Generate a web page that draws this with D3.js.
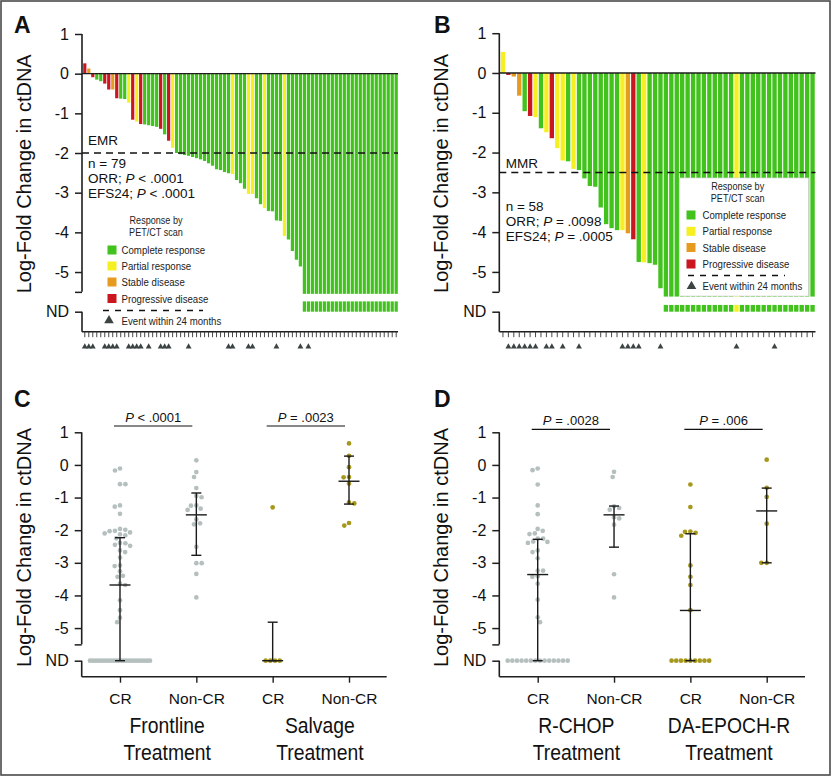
<!DOCTYPE html>
<html><head><meta charset="utf-8">
<script src="https://cdn.jsdelivr.net/npm/d3@7/dist/d3.min.js"></script>
<style>
body{margin:0;background:#fff;}
svg{display:block;}
</style></head><body>
<svg id="fig" width="832" height="776"></svg>
<script>
const ND = "ND";

// ---------- Panel A (waterfall, n = 79) ----------
const respA = ["PD","SD","PD","CR","CR","PD","PD","SD","PD","CR",
  "CR","PR","PD","PR","PD","CR","CR","CR","CR","PD",
  "CR","PD","PR","CR","CR","CR","CR","CR","CR","CR",
  "CR","CR","CR","CR","CR","CR","CR","PR","CR","CR",
  "CR","PR","PR","CR","CR","PR","CR","CR","CR","CR",
  "PR","CR","CR","CR","CR","CR","CR","CR","CR","CR",
  "CR","CR","CR","CR","CR","CR","CR","CR","CR","CR",
  "CR","CR","CR","CR","CR","CR","CR","CR","CR"];
const valA = [0.26,0.13,-0.09,-0.15,-0.19,-0.25,-0.40,-0.40,-0.62,-0.63,
  -0.64,-0.73,-1.16,-1.21,-1.27,-1.28,-1.30,-1.32,-1.34,-1.39,
  -1.53,-1.69,-1.87,-2.00,-2.03,-2.05,-2.07,-2.10,-2.13,-2.16,
  -2.20,-2.26,-2.32,-2.41,-2.43,-2.48,-2.51,-2.53,-2.68,-2.76,
  -2.90,-3.03,-3.03,-3.14,-3.29,-3.39,-3.46,-3.47,-3.70,-3.71,
  -4.09,-4.18,-4.47,-4.69,-4.86,ND,ND,ND,ND,ND,
  ND,ND,ND,ND,ND,ND,ND,ND,ND,ND,
  ND,ND,ND,ND,ND,ND,ND,ND,ND];
const eventsA = [0,1,2,5,6,7,8,11,12,13,14,16,19,20,21,26,36,37,41,42,48,54,56];
const thresholdA = -2;

// ---------- Panel B (waterfall, n = 58) ----------
const respB = ["PR","PD","SD","SD","CR","PD","PR","CR","PR","PD",
  "PR","PR","CR","PR","CR","CR","CR","CR","CR","CR",
  "CR","CR","PR","SD","PD","CR","PR","CR","CR","CR",
  "CR","CR","CR","CR","CR","CR","CR","CR","CR","CR",
  "CR","CR","CR","PR","CR","CR","CR","CR","CR","CR",
  "CR","CR","CR","CR","CR","CR","CR","CR"];
const valB = [0.53,-0.05,-0.09,-0.57,-0.96,-1.08,-1.11,-1.39,-1.49,-1.64,
  -1.89,-2.20,-2.22,-2.41,-2.44,-2.65,-2.84,-2.86,-3.38,-3.80,
  -3.90,-3.95,-3.95,-4.03,-4.18,-4.75,-4.76,-4.78,-4.82,-5.41,
  ND,ND,ND,ND,ND,ND,ND,ND,ND,ND,
  ND,ND,ND,ND,ND,ND,ND,ND,ND,ND,
  ND,ND,ND,ND,ND,ND,ND,ND];
const eventsB = [1,2,3,4,5,6,8,9,11,14,22,23,24,25,29,43,50];
const thresholdB = -2.5;

// ---------- Panel C (dot plots) ----------
const frontCR = [-0.11,-0.17,-0.59,-0.59,-1.24,-1.28,-1.50,-1.96,-1.99,-2.02,
  -2.03,-2.07,-2.10,-2.13,-2.16,-2.25,-2.39,-2.40,-2.45,-2.48,
  -2.62,-2.67,-2.84,-3.08,-3.10,-3.26,-3.40,-3.43,-3.64,-3.68,
  -4.15,-4.45,-4.68,-4.82,
  ND,ND,ND,ND,ND,ND,ND,ND,ND,ND,ND,ND,ND,ND,ND,ND,ND,ND,ND,ND,ND,ND,ND,ND];
const frontNonCR = [0.14,-0.22,-0.37,-0.71,-0.95,-0.99,-1.24,-1.25,-1.34,-1.38,
  -1.67,-1.79,-1.82,-2.51,-3.01,-3.01,-3.34,-4.06];
const salvCR = [-1.30,ND,ND,ND,ND];
const salvNonCR = [0.66,0.28,-0.07,-0.37,-0.38,-0.57,-1.15,-1.18,-1.78,-1.86];
const medC = [-3.68,-1.53,ND,-0.50];
const q3C  = [-2.23,-0.86,-4.82,0.27];
const q1C  = [ND,-2.77,ND,-1.20];
const pC = [["P"," < .0001"],["P"," = .0023"]];
const groupsC = [["Frontline","Treatment"],["Salvage","Treatment"]];

// ---------- Panel D (dot plots) ----------
const rchopCR = [-0.11,-0.16,-0.60,-1.24,-1.51,-1.96,-2.02,-2.10,-2.12,-2.26,
  -2.26,-2.35,-2.36,-2.39,-2.62,-2.67,-2.86,-3.24,-3.24,-3.41,
  -3.43,-3.64,-4.13,-4.67,-4.82,
  ND,ND,ND,ND,ND,ND,ND,ND,ND,ND,ND,ND,ND,ND];
const rchopNonCR = [-0.21,-0.37,-1.27,-1.32,-1.37,-1.60,-1.64,-1.83,-3.35,-4.06];
const epochCR = [-0.60,-1.29,-2.04,-2.05,-2.08,-2.17,-3.08,-3.43,-3.68,-4.45,
  ND,ND,ND,ND,ND,ND,ND,ND,ND];
const epochNonCR = [0.16,-0.70,-0.98,-1.80,-3.00,-3.00];
const medD = [-3.36,-1.53,-4.46,-1.41];
const q3D  = [-2.28,-1.26,-2.11,-0.71];
const q1D  = [ND,-2.52,ND,-3.00];
const pD = [["P"," = .0028"],["P"," = .006"]];
const groupsD = [["R-CHOP","Treatment"],["DA-EPOCH-R","Treatment"]];

const catLabels = ["CR","Non-CR","CR","Non-CR"];
const yTicks = [1,0,-1,-2,-3,-4,-5];
const legendLabels = [["CR","Complete response"],["PR","Partial response"],["SD","Stable disease"],["PD","Progressive disease"]];

// ---------- styles ----------
const FONT = '"Liberation Sans", Arial, Helvetica, sans-serif';
const respColor = {CR:"#41c21c", PR:"#f6f022", SD:"#e59b20", PD:"#c9161f"};
const AXIS = "#1e1e1e";
const GRAY_DOT = "#b5c0be", OLIVE_DOT = "#a6981c";
const ND_POS = -6, BREAK = -5.5;
const num = v => v === ND ? ND_POS : v;

const svg = d3.select("#fig");
svg.append("rect").attr("x",1).attr("y",1).attr("width",829).attr("height",774)
  .attr("fill","#fff").attr("stroke","#4a4a4a").attr("stroke-width",1.6);

// condensed text: Liberation Sans squeezed horizontally
function narrowText(g, x, y, txt, size, anchor, sx, fill) {
  return g.append("text").attr("transform", `translate(${x},${y}) scale(${sx || 0.84},1)`)
    .attr("text-anchor", anchor || "start").attr("font-family", FONT)
    .attr("font-size", size).attr("fill", fill || "#222").text(txt);
}

function yAxis(g, y, axisX, bottomY, titleX) {
  const ax = d3.axisLeft(y).tickValues(yTicks.concat([BREAK, ND_POS]))
    .tickSize(7).tickPadding(6)
    .tickFormat(d => d === ND_POS ? "ND" : d === BREAK ? "" : String(d));
  const a = g.append("g").attr("transform", `translate(${axisX},0)`).call(ax);
  a.select(".domain").remove();
  a.selectAll(".tick line").attr("stroke", AXIS).attr("stroke-width", 1.5);
  a.selectAll(".tick text").attr("font-size", 16).attr("font-family", FONT).attr("fill", "#111");
  a.append("line").attr("x1",0).attr("x2",0).attr("y1", y(1)).attr("y2", y(BREAK))
    .attr("stroke", AXIS).attr("stroke-width", 1.6);
  a.append("line").attr("x1",0).attr("x2",0).attr("y1", y(ND_POS)).attr("y2", bottomY)
    .attr("stroke", AXIS).attr("stroke-width", 1.6);
  const midY = (y(1) + y(ND_POS)) / 2 + 1;
  g.append("text").attr("transform", `translate(${titleX},${midY}) rotate(-90)`)
    .attr("text-anchor","middle").attr("font-family", FONT).attr("font-size", 20)
    .attr("fill","#111").text("Log-Fold Change in ctDNA");
}

function panelLetter(letter, x, yb) {
  svg.append("text").attr("x", x).attr("y", yb).attr("font-family", FONT)
    .attr("font-weight","bold").attr("font-size", 23).attr("fill","#111").text(letter);
}

// text with an italic "P" part: parts = [before, italic, after]
function statText(sel, x, y, parts, size, anchor) {
  const t = sel.append("text").attr("x", x).attr("y", y).attr("font-family", FONT)
    .attr("font-size", size).attr("fill", "#111").attr("text-anchor", anchor || "start");
  if (parts[0]) t.append("tspan").text(parts[0]);
  t.append("tspan").attr("font-style","italic").text(parts[1]);
  t.append("tspan").text(parts[2]);
  return t;
}

function waterfall(cfg) {
  const g = svg.append("g");
  const y = d3.scaleLinear().domain([1, ND_POS]).range([cfg.yTop, cfg.yND]);
  const x = d3.scaleBand().domain(d3.range(cfg.vals.length)).range([cfg.x0, cfg.x1])
    .paddingInner(0.2).paddingOuter(0.05);
  const data = cfg.vals.map((v, i) => ({i, v, r: cfg.resp[i]}));
  g.selectAll("rect.bar").data(data).join("rect").attr("class","bar")
    .attr("x", d => x(d.i)).attr("width", x.bandwidth())
    .attr("y", d => d.v === ND ? y(0) : Math.min(y(0), y(d.v)))
    .attr("height", d => d.v === ND ? y(cfg.ndMain) - y(0) : Math.abs(y(d.v) - y(0)))
    .attr("fill", d => respColor[d.r]);
  g.selectAll("rect.nd").data(data.filter(d => d.v === ND)).join("rect").attr("class","nd")
    .attr("x", d => x(d.i)).attr("width", x.bandwidth())
    .attr("y", y(cfg.ndSeg)).attr("height", y(ND_POS) - y(cfg.ndSeg))
    .attr("fill", d => respColor[d.r]);
  g.append("line").attr("x1", cfg.axisX).attr("x2", cfg.axisRight).attr("y1", y(0)).attr("y2", y(0))
    .attr("stroke", AXIS).attr("stroke-width", 1.4);
  g.append("line").attr("x1", cfg.axisX).attr("x2", cfg.axisRight)
    .attr("y1", y(cfg.threshold)).attr("y2", y(cfg.threshold))
    .attr("stroke", "#111").attr("stroke-width", 1.4).attr("stroke-dasharray", "7,5");
  g.append("line").attr("x1", cfg.axisX).attr("x2", cfg.axisRight).attr("y1", cfg.bottomY).attr("y2", cfg.bottomY)
    .attr("stroke", AXIS).attr("stroke-width", 1.6);
  g.selectAll("line.tk").data(data).join("line").attr("class","tk")
    .attr("x1", d => x(d.i) + x.bandwidth()/2).attr("x2", d => x(d.i) + x.bandwidth()/2)
    .attr("y1", cfg.bottomY).attr("y2", cfg.bottomY + 5.5)
    .attr("stroke", "#333").attr("stroke-width", 0.9);
  g.selectAll("path.ev").data(cfg.events).join("path").attr("class","ev")
    .attr("d", d3.symbol(d3.symbolTriangle, 15))
    .attr("transform", d => `translate(${x(d) + x.bandwidth()/2},${cfg.triY})`)
    .attr("fill", "#3c4343");
  yAxis(g, y, cfg.axisX, cfg.bottomY, cfg.titleX);
  return {g, y, x};
}

function legend(g, L) {
  if (L.box) {
    g.append("rect").attr("x", L.box[0]).attr("y", L.box[1]).attr("width", L.box[2]).attr("height", L.box[3])
      .attr("fill", "#fff").attr("stroke", "#d6d6d6").attr("stroke-width", 0.7);
  }
  ["Response by","PET/CT scan"].forEach((t, k) => narrowText(g, L.titleX, L.titleY[k], t, 10.8, "middle"));
  legendLabels.forEach(([code, label], k) => {
    g.append("rect").attr("x", L.swX).attr("y", L.rows[k] - 4.5).attr("width", 9).attr("height", 9)
      .attr("fill", respColor[code]);
    narrowText(g, L.textX, L.rows[k] + 4, label, 11.5);
  });
  g.append("line").attr("x1", L.dash[0]).attr("x2", L.dash[1]).attr("y1", L.dash[2]).attr("y2", L.dash[2])
    .attr("stroke","#111").attr("stroke-width",1.6).attr("stroke-dasharray","6,6");
  g.append("path").attr("d", d3.symbol(d3.symbolTriangle, 40))
    .attr("transform", `translate(${L.tri[0]},${L.tri[1]})`).attr("fill","#3c4343");
  narrowText(g, L.textX, L.tri[1] + 4, "Event within 24 months", 11.5);
}

// ----- Panel A -----
const A = waterfall({resp: respA, vals: valA, events: eventsA, threshold: thresholdA,
  x0: 83, x1: 398, axisX: 82, axisRight: 398, yTop: 34, yND: 311.7, bottomY: 331.7,
  ndMain: -5.55, ndSeg: -5.74, triY: 346.7, titleX: 31});
A.g.append("text").attr("x", 88).attr("y", 145).attr("font-family", FONT).attr("font-size", 13.5).attr("fill","#111").text("EMR");
A.g.append("text").attr("x", 88).attr("y", 167.5).attr("font-family", FONT).attr("font-size", 13.5).attr("fill","#111").text("n = 79");
statText(A.g, 88, 182.5, ["ORR; ","P"," < .0001"], 13.5);
statText(A.g, 88, 197.5, ["EFS24; ","P"," < .0001"], 13.5);
legend(A.g, {titleX: 156, titleY: [224, 236], swX: 107.5, textX: 121.5,
  rows: [250, 266, 282, 298.5], dash: [103, 203, 310.5], tri: [109, 320.5]});
panelLetter("A", 14, 33);

// ----- Panel B -----
const B = waterfall({resp: respB, vals: valB, events: eventsB, threshold: thresholdB,
  x0: 500.5, x1: 815, axisX: 499.3, axisRight: 815.5, yTop: 33.2, yND: 311.7, bottomY: 331.7,
  ndMain: -5.62, ndSeg: -5.83, triY: 346.7, titleX: 448});
B.g.append("text").attr("x", 505.7).attr("y", 168).attr("font-family", FONT).attr("font-size", 13.5).attr("fill","#111").text("MMR");
B.g.append("text").attr("x", 505.7).attr("y", 210.5).attr("font-family", FONT).attr("font-size", 13.5).attr("fill","#111").text("n = 58");
statText(B.g, 505.7, 225.5, ["ORR; ","P"," = .0098"], 13.5);
statText(B.g, 505.7, 240.5, ["EFS24; ","P"," = .0005"], 13.5);
legend(B.g, {box: [679.5, 178, 129, 118], titleX: 737.7, titleY: [190, 202], swX: 686.5, textX: 702.5,
  rows: [215, 231.3, 247.5, 264], dash: [688, 785, 275.5], tri: [691.5, 286.3]});
panelLetter("B", 434, 33);

// ----- dot panels -----
function swarm(ys, d) {
  const order = d3.range(ys.length).sort((a, b) => ys[a] - ys[b]);
  const placed = [], out = new Array(ys.length);
  let flip = -1;
  for (const i of order) {
    const yi = ys[i], iv = [];
    for (const p of placed) {
      const dy = yi - p.y;
      if (Math.abs(dy) < d) { const w = Math.sqrt(d*d - dy*dy); iv.push([p.x - w, p.x + w]); }
    }
    const cands = [0]; iv.forEach(([a, b]) => cands.push(a, b));
    const ok = c => iv.every(([a, b]) => c <= a + 1e-6 || c >= b - 1e-6);
    let best = null;
    cands.filter(ok).forEach(c => {
      if (best === null || Math.abs(c) < Math.abs(best) - 1e-6 ||
          (Math.abs(Math.abs(c) - Math.abs(best)) < 1e-6 && c * flip > 0)) best = c;
    });
    if (Math.abs(best) > 1e-6) flip = -flip;
    out[i] = best; placed.push({x: best, y: yi});
  }
  return out;
}

function dotPanel(cfg) {
  const g = svg.append("g");
  const y = d3.scaleLinear().domain([1, ND_POS]).range([432.3, 660.7]);
  const x = d3.scalePoint().domain(d3.range(4)).range(cfg.xRange);
  cfg.groups.forEach((vals, k) => {
    const color = k < 2 ? GRAY_DOT : OLIVE_DOT;
    const det = vals.filter(v => v !== ND), nd = vals.filter(v => v === ND);
    const offs = swarm(det.map(v => y(v)), 5.4);
    const pts = det.map((v, i) => ({cx: x(k) + offs[i], cy: y(v)}));
    const sp = nd.length > 1 ? Math.min(4.7, 60 / (nd.length - 1)) : 0;
    nd.forEach((v, i) => pts.push({cx: x(k) + (i - (nd.length - 1) / 2) * sp, cy: y(ND_POS)}));
    g.selectAll(null).data(pts).join("circle").attr("cx", d => d.cx).attr("cy", d => d.cy)
      .attr("r", 2.35).attr("fill", color);
  });
  d3.range(4).forEach(k => {
    const cx = x(k), m = num(cfg.med[k]), lo = num(cfg.q1[k]), hi = num(cfg.q3[k]);
    const ln = (x1, x2, y1, y2) => g.append("line").attr("x1", x1).attr("x2", x2).attr("y1", y1).attr("y2", y2)
      .attr("stroke", "#1a1a1a").attr("stroke-width", 1.4);
    ln(cx, cx, y(lo), y(hi));
    ln(cx - 5, cx + 5, y(lo), y(lo));
    ln(cx - 5, cx + 5, y(hi), y(hi));
    ln(cx - 10.5, cx + 10.5, y(m), y(m));
  });
  const xa = d3.axisBottom(x).tickSize(6).tickPadding(10).tickFormat(k => catLabels[k]);
  const a = g.append("g").attr("transform", `translate(0,${cfg.bottomY})`).call(xa);
  a.select(".domain").remove();
  a.append("line").attr("x1", cfg.axisX).attr("x2", cfg.axisRight).attr("y1", 0).attr("y2", 0)
    .attr("stroke", AXIS).attr("stroke-width", 1.6);
  a.selectAll(".tick line").attr("stroke", AXIS).attr("stroke-width", 1.4);
  a.selectAll(".tick text").attr("font-family", FONT).attr("font-size", 15.5).attr("fill", "#111");
  cfg.groupNames.forEach((names, j) => {
    const cx = (x(2*j) + x(2*j + 1)) / 2 + cfg.labelShift;
    names.forEach((t, r) => narrowText(g, cx, [733.3, 760][r], t, 21.5, "middle", 0.9, "#111"));
    const bx1 = x(2*j) - 6, bx2 = x(2*j + 1) - 4;
    g.append("line").attr("x1", bx1).attr("x2", bx2).attr("y1", cfg.brY).attr("y2", cfg.brY)
      .attr("stroke", "#111").attr("stroke-width", 1.2);
    statText(g, (bx1 + bx2) / 2, cfg.brY - 4, ["", cfg.p[j][0], cfg.p[j][1]], 13, "middle");
  });
  yAxis(g, y, cfg.axisX, cfg.bottomY, cfg.titleX);
}

dotPanel({groups: [frontCR, frontNonCR, salvCR, salvNonCR], med: medC, q1: q1C, q3: q3C,
  xRange: [120, 349], axisX: 81.7, axisRight: 386.7, bottomY: 676.7, titleX: 31,
  groupNames: groupsC, labelShift: 9, brY: 426, p: pC});
panelLetter("C", 14, 406.5);

dotPanel({groups: [rchopCR, rchopNonCR, epochCR, epochNonCR], med: medD, q1: q1D, q3: q3D,
  xRange: [537.7, 766.7], axisX: 499.3, axisRight: 805, bottomY: 676.7, titleX: 448,
  groupNames: groupsD, labelShift: 0.5, brY: 429.3, p: pD});
panelLetter("D", 434, 406.5);
</script>
</body></html>
